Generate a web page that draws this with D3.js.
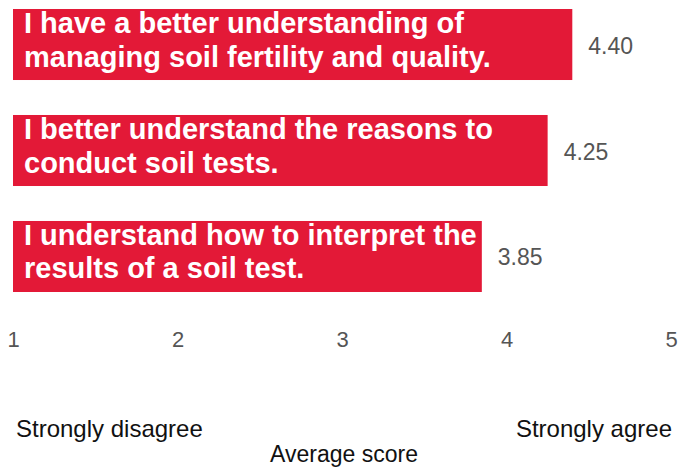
<!DOCTYPE html>
<html><head><meta charset="utf-8">
<script src="https://cdn.jsdelivr.net/npm/d3@7"></script>
<style>body{margin:0;background:#fff}svg{display:block}</style>
</head><body>
<svg id="c" width="686" height="468"></svg>
<script>
const categories = [
  ["I have a better understanding of", "managing soil fertility and quality."],
  ["I better understand the reasons to", "conduct soil tests."],
  ["I understand how to interpret the", "results of a soil test."]
];
const values = [4.40, 4.25, 3.85];
const valueLabels = ["4.40", "4.25", "3.85"];
const ticks = [1, 2, 3, 4, 5];
const endLabels = ["Strongly disagree", "Strongly agree"];
const axisTitle = "Average score";

const svg = d3.select("#c");
const font = "'Liberation Sans', Arial, sans-serif";
const x = d3.scaleLinear().domain([1, 5]).range([13, 671]);
const y = d3.scaleBand().domain(d3.range(values.length)).range([9, 292]).paddingInner(0.33).paddingOuter(0);

const g = svg.selectAll("g.bar").data(values).enter().append("g");
g.append("rect")
  .attr("x", x(1)).attr("y", (d,i)=>y(i))
  .attr("width", d=>x(d)-x(1)).attr("height", y.bandwidth())
  .attr("fill", "#E31937");
g.each(function(d,i){
  const t = d3.select(this).append("text")
    .attr("font-family", font).attr("font-weight","bold").attr("font-size", 29)
    .attr("fill","#fff");
  categories[i].forEach((line,j)=>{
    t.append("tspan").attr("x", x(1)+11).attr("y", y(i)+y.bandwidth()/2 - 11.5 + j*33.5).text(line);
  });
});
g.append("text")
  .attr("x", d=>x(d)+16).attr("y", (d,i)=>y(i)+y.bandwidth()/2+9)
  .attr("font-family", font).attr("font-size", 23).attr("fill","#555")
  .text((d,i)=>valueLabels[i]);

const axis = d3.axisBottom(x).tickValues(ticks).tickFormat(d3.format("d")).tickSize(0).tickPadding(0);
const ag = svg.append("g").attr("transform","translate(0,331)").call(axis);
ag.select(".domain").remove();
ag.selectAll("text").attr("font-family", font).attr("font-size", 22).attr("fill","#555");

svg.append("text").attr("x", 16).attr("y", 437).attr("font-family", font).attr("font-size", 24).attr("fill","#111").text(endLabels[0]);
svg.append("text").attr("x", 672).attr("y", 437).attr("text-anchor","end").attr("font-family", font).attr("font-size", 24).attr("fill","#111").text(endLabels[1]);
svg.append("text").attr("x", 344).attr("y", 462).attr("text-anchor","middle").attr("font-family", font).attr("font-size", 23).attr("fill","#111").text(axisTitle);
</script>
</body></html>
